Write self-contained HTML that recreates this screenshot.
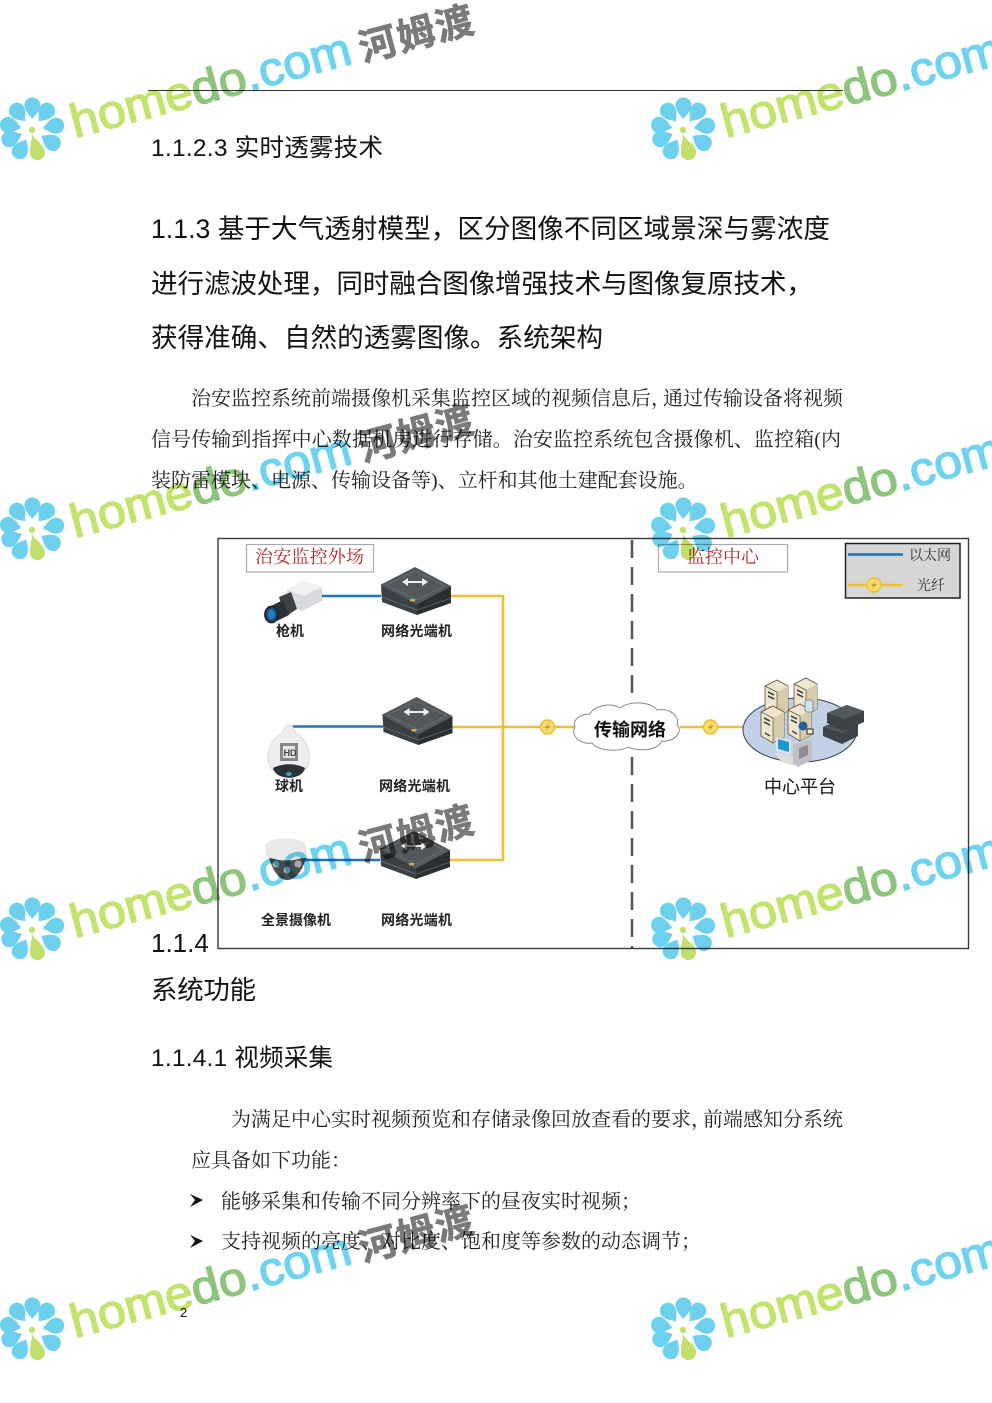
<!DOCTYPE html>
<html><head><meta charset="utf-8"><style>
html,body{margin:0;padding:0;background:#fff;width:992px;height:1403px;overflow:hidden}
svg{display:block}
.h{font-family:"Liberation Sans","Noto Sans CJK SC",sans-serif;fill:#111}
.b{font-family:"Liberation Serif","Noto Serif CJK SC",serif;fill:#222;font-size:20px}
.l{font-family:"Liberation Sans","Noto Sans CJK SC",sans-serif;font-weight:700;font-size:14px;fill:#222}
.r{font-family:"Liberation Serif","Noto Serif CJK SC",serif;font-size:18px;fill:#b2282c}
.wm{mix-blend-mode:multiply}
.wt{font-family:"Liberation Sans",sans-serif;font-size:47px;stroke-width:1.4;stroke-linejoin:round}
.wc{font-family:"Liberation Sans","Noto Sans CJK SC",sans-serif;font-weight:700;font-size:38px;fill:#7a7a7a;stroke:#7a7a7a;stroke-width:.6}
</style></head><body>
<svg width="992" height="1403" viewBox="0 0 992 1403" xmlns="http://www.w3.org/2000/svg">
<defs>
<path id="p" d="M0,-11 C-3,-15 -8,-19 -8,-25 A8,7.500 0 0 1 8,-25 C8,-19 3,-15 0,-11Z"/>
<g id="logo">
<g fill="#6dd0ec">
<use href="#p" transform="rotate(-150)"/><use href="#p" transform="rotate(-112)"/><use href="#p" transform="rotate(-78)"/><use href="#p" transform="rotate(-38)"/><use href="#p" transform="rotate(1)"/><use href="#p" transform="rotate(38)"/><use href="#p" transform="rotate(80)"/><use href="#p" transform="rotate(122)"/>
</g>
<path d="M0,3 C1,10 13,14 13,22 C13,32 0,33 -2,24 C-3,17 0,12 0,3Z" fill="#bfe06a"/>
<circle cy="0" r="3.200" fill="#bfe06a"/>
</g>
<g id="sw">
<polygon points="381,585 417,604 417,615 382,602" fill="#3a4043"/>
<polygon points="451,586 417,604 417,615 451,603" fill="#2a2f31"/>
<polygon points="415,567 451,586 417,604 380,585" fill="#52585b"/>
<polygon points="415,571 445,586 417,600 386,585" fill="none" stroke="#6c7275" stroke-width=".7"/>
<path d="M382,597 L417,610 L451,598" fill="none" stroke="#767c7f" stroke-width=".6"/>
<path d="M404,582 H426" stroke="#eee" stroke-width="2"/>
<path d="M402,582 L408,578 V586Z M428,582 L422,578 V586Z" fill="#eee"/>
<rect x="410" y="599" width="5" height="2.500" fill="#c9b04a"/>
</g>
<g id="bolt">
<circle r="7" fill="#f6dc70" stroke="#efbd2c" stroke-width="1.400"/>
<path d="M3,-5 L-3,1 H0 L-3,5 L3,-1 H0Z" fill="#c79a18"/>
</g>
<g id="srv">
<polygon points="0,6 12,0 23,6 23,31 12,37 0,30" fill="#efe6cf" stroke="#5c5038" stroke-width=".8"/>
<polygon points="12,12 23,6 23,31 12,37" fill="#d8cbab"/>
<path d="M0,6 L12,12 V37" fill="none" stroke="#5c5038" stroke-width=".7"/>
<path d="M3,12 L9,15 M3,16 L9,19 M4,27 L9,30" stroke="#444" stroke-width="1.600"/>
</g>
</defs>
<rect width="992" height="1403" fill="#fff"/>

<!-- page text -->
<line x1="148" y1="90.500" x2="843" y2="90.500" stroke="#333" stroke-width="1"/>
<text class="h" x="151" y="156" font-size="24.5" textLength="232">1.1.2.3 实时透雾技术</text>
<text class="h" x="151" y="238" font-size="26.6" textLength="679">1.1.3 基于大气透射模型，区分图像不同区域景深与雾浓度</text>
<text class="h" x="151" y="293" font-size="26.6" textLength="662">进行滤波处理，同时融合图像增强技术与图像复原技术，</text>
<text class="h" x="151" y="347" font-size="26.6" textLength="452">获得准确、自然的透雾图像。系统架构</text>
<text class="b" x="191" y="405">治安监控系统前端摄像机采集监控区域的视频信息后，</text>
<text class="b" x="663" y="405">通过传输设备将视频</text>
<text class="b" x="151" y="446" textLength="690">信号传输到指挥中心数据机房进行存储。治安监控系统包含摄像机、监控箱(内</text>
<text class="b" x="151" y="487">装防雷模块、电源、传输设备等)、立杆和其他土建配套设施。</text>
<text class="h" x="151" y="952" font-size="26">1.1.4</text>
<text class="h" x="151" y="999" font-size="26.4" textLength="105">系统功能</text>
<text class="h" x="151" y="1066" font-size="24.5" textLength="182">1.1.4.1 视频采集</text>
<text class="b" x="231" y="1126">为满足中心实时视频预览和存储录像回放查看的要求，</text>
<text class="b" x="703" y="1126">前端感知分系统</text>
<text class="b" x="191" y="1167">应具备如下功能：</text>
<path d="M190,1194 L203,1200 L190,1207 L195,1200Z" fill="#111"/>
<text class="b" x="221" y="1208">能够采集和传输不同分辨率下的昼夜实时视频；</text>
<path d="M190,1235 L203,1241 L190,1248 L195,1241Z" fill="#111"/>
<text class="b" x="221" y="1248">支持视频的亮度、对比度、饱和度等参数的动态调节；</text>
<text class="h" x="180" y="1317" font-size="13">2</text>

<!-- diagram -->
<rect x="218" y="538.500" width="750.500" height="410" fill="#fff" stroke="#3a3a3a" stroke-width="1.400"/>
<path d="M632,540 V700 M632,757 V948" stroke="#555" stroke-width="2.500" stroke-dasharray="18 9"/>
<rect x="246.500" y="544.500" width="127" height="27.500" fill="#fff" stroke="#aaa" stroke-width="1.200"/>
<text class="r" x="255" y="563" textLength="109">治安监控外场</text>
<rect x="658.500" y="544.500" width="129" height="27.500" fill="#fff" stroke="#aaa" stroke-width="1.200"/>
<text class="r" x="687" y="563" textLength="72">监控中心</text>
<rect x="845.500" y="543.500" width="114.500" height="54.500" fill="#d6d6d6" stroke="#222" stroke-width="1.500"/>
<line x1="848" y1="554.500" x2="903" y2="554.500" stroke="#1f74b8" stroke-width="2.400"/>
<line x1="848" y1="585" x2="903" y2="585" stroke="#f0bd33" stroke-width="2.400"/>
<use href="#bolt" x="874" y="585"/>
<text x="909" y="560" font-size="14" textLength="42" style="font-family:'Liberation Serif','Noto Serif CJK SC',serif" fill="#333">以太网</text>
<text x="917" y="590" font-size="14" textLength="28" style="font-family:'Liberation Serif','Noto Serif CJK SC',serif" fill="#333">光纤</text>

<!-- connectors -->
<g fill="none" stroke-width="2.600">
<path d="M321,596 H381" stroke="#1f74b8"/>
<path d="M288,726.500 H383" stroke="#1f74b8"/>
<path d="M300,860 H380" stroke="#1f74b8"/>
<path d="M450,596 H503 V860 H448" stroke="#f0bd33"/>
<path d="M452,727 H576 M680,727 H743" stroke="#f0bd33"/>
</g>
<use href="#bolt" x="547.500" y="727"/>
<use href="#bolt" x="710.500" y="727"/>
<use href="#sw"/>
<use href="#sw" x="1.500" y="130"/>
<use href="#sw" x="-1" y="264"/>

<!-- cloud -->
<path d="M575,727 C572,720 580,714 590,714 C594,706 610,702 620,708 C630,700 652,702 657,710 C670,708 680,716 677,725 C684,732 674,742 662,741 C656,752 636,751 628,747 C618,753 596,750 592,743 C580,745 570,735 575,727Z" fill="#fff" stroke="#888" stroke-width="1"/>
<text class="l" x="594" y="736" style="font-size:18px;fill:#111" textLength="72">传输网络</text>

<!-- gun camera -->
<polygon points="287,590 303,581 322,587 322,601 302,611 288,604" fill="#d9dade"/>
<polygon points="287,590 303,581 322,587 304,596" fill="#f0f1f3"/>
<polygon points="279,597 291,592 297,609 285,617" fill="#3e4247"/>
<polygon points="271,606 283,600 289,615 277,621" fill="#2d3136"/>
<ellipse cx="271.500" cy="614.500" rx="6.500" ry="8" fill="#1d4d7c" stroke="#222" stroke-width="1.800"/>
<ellipse cx="271.500" cy="614.500" rx="3.500" ry="5" fill="#1f7fc4"/>

<!-- dome PTZ -->
<path d="M286,725 H292 L296,733 C306,738 311,752 309,762 C308,767 306,769 304,771 L274,771 C271,769 269,766 268,760 C267,750 272,738 282,733Z" fill="#ededef" stroke="#ccc" stroke-width=".6"/>
<rect x="280" y="743" width="18" height="18" fill="#85888a"/>
<rect x="283" y="746" width="12" height="12" fill="#e4e4e4"/>
<text x="283.500" y="756" font-size="9" font-weight="700" fill="#444" style="font-family:'Liberation Sans',sans-serif">HD</text>
<path d="M273,768 C276,781 302,781 305,768 C296,763 282,763 273,768Z" fill="#2c3136"/>
<ellipse cx="289" cy="774" rx="3" ry="2" fill="#3a9ec9"/>

<!-- panoramic dome -->
<path d="M269,858 C272,868 278,880 287,880 C297,880 303,868 306,858Z" fill="#4a4d50"/>
<circle cx="276" cy="864" r="3.500" fill="#a9a9a9"/><circle cx="287" cy="870" r="3.500" fill="#a9a9a9"/><circle cx="298" cy="864" r="3.500" fill="#a9a9a9"/>
<path d="M265,846 C266,836 304,836 306,846 V856 C296,862 276,862 266,856Z" fill="#e9e9eb"/>

<!-- centre platform -->
<ellipse cx="800" cy="730" rx="57" ry="32" fill="#c2d1e6" stroke="#2f4058" stroke-width="1"/>
<use href="#srv" x="765" y="680"/>
<use href="#srv" x="794" y="678"/>
<use href="#srv" x="761" y="706"/>
<use href="#srv" x="788" y="704"/>
<rect x="805" y="700" width="8" height="12" rx="2" fill="#cfe3ef" stroke="#456" stroke-width=".6"/>
<circle cx="803" cy="726" r="4.500" fill="#1f5e96"/>
<rect x="807" y="729" width="6" height="5" fill="#f5efcf" stroke="#222"/>
<g>
<polygon points="827,713 847,705 864,711 864,722 844,731 827,723" fill="#3c4247"/>
<polygon points="827,713 847,705 864,711 844,719" fill="#54595d"/>
<polygon points="823,727 843,719 858,725 858,736 842,744 823,736" fill="#3c4247"/>
<polygon points="823,727 827,725 844,731 858,725 842,733" fill="#54595d"/>
</g>
<polygon points="775,752 795,757 795,766 781,762" fill="#dedede"/>
<polygon points="776,737 791,741 791,755 776,751" fill="#e4e4e4"/>
<polygon points="778,739 789,742 789,752 778,749" fill="#1e97d6"/>
<polygon points="793,745 808,740 812,742 812,760 798,767 793,763" fill="#c0c0c2"/>
<polygon points="799,748 808,745 808,755 799,759" fill="#8f8f91"/>
<text x="764" y="793" font-size="18" textLength="72" class="h">中心平台</text>

<text class="l" x="276" y="636" textLength="28">枪机</text>
<text class="l" x="381" y="636" textLength="71">网络光端机</text>
<text class="l" x="275" y="791" textLength="28">球机</text>
<text class="l" x="379" y="791" textLength="71">网络光端机</text>
<text class="l" x="261" y="925" textLength="70">全景摄像机</text>
<text class="l" x="381" y="925" textLength="71">网络光端机</text>

<!-- watermarks -->
<g class="wm">
<g>
<use href="#logo" x="32" y="130"/>
<text class="wt" transform="rotate(-15 75 138)" x="75" y="138" textLength="289" lengthAdjust="spacingAndGlyphs"><tspan fill="#c3e36f" stroke="#c3e36f">home</tspan><tspan fill="#8fc47e" stroke="#8fc47e">do</tspan><tspan fill="#6fd3ee" stroke="#6fd3ee">.com</tspan></text>
<text class="wc" transform="rotate(-15 363 62)" x="363" y="62" textLength="117">河姆渡</text>
<use href="#logo" x="683" y="130"/>
<text class="wt" transform="rotate(-15 726 138)" x="726" y="138" textLength="289" lengthAdjust="spacingAndGlyphs"><tspan fill="#c3e36f" stroke="#c3e36f">home</tspan><tspan fill="#8fc47e" stroke="#8fc47e">do</tspan><tspan fill="#6fd3ee" stroke="#6fd3ee">.com</tspan></text>
</g>
<g transform="translate(0 400)">
<use href="#logo" x="32" y="130"/>
<text class="wt" transform="rotate(-15 75 138)" x="75" y="138" textLength="289" lengthAdjust="spacingAndGlyphs"><tspan fill="#c3e36f" stroke="#c3e36f">home</tspan><tspan fill="#8fc47e" stroke="#8fc47e">do</tspan><tspan fill="#6fd3ee" stroke="#6fd3ee">.com</tspan></text>
<text class="wc" transform="rotate(-15 363 62)" x="363" y="62" textLength="117">河姆渡</text>
<use href="#logo" x="683" y="130"/>
<text class="wt" transform="rotate(-15 726 138)" x="726" y="138" textLength="289" lengthAdjust="spacingAndGlyphs"><tspan fill="#c3e36f" stroke="#c3e36f">home</tspan><tspan fill="#8fc47e" stroke="#8fc47e">do</tspan><tspan fill="#6fd3ee" stroke="#6fd3ee">.com</tspan></text>
</g>
<g transform="translate(0 800)">
<use href="#logo" x="32" y="130"/>
<text class="wt" transform="rotate(-15 75 138)" x="75" y="138" textLength="289" lengthAdjust="spacingAndGlyphs"><tspan fill="#c3e36f" stroke="#c3e36f">home</tspan><tspan fill="#8fc47e" stroke="#8fc47e">do</tspan><tspan fill="#6fd3ee" stroke="#6fd3ee">.com</tspan></text>
<text class="wc" transform="rotate(-15 363 62)" x="363" y="62" textLength="117">河姆渡</text>
<use href="#logo" x="683" y="130"/>
<text class="wt" transform="rotate(-15 726 138)" x="726" y="138" textLength="289" lengthAdjust="spacingAndGlyphs"><tspan fill="#c3e36f" stroke="#c3e36f">home</tspan><tspan fill="#8fc47e" stroke="#8fc47e">do</tspan><tspan fill="#6fd3ee" stroke="#6fd3ee">.com</tspan></text>
</g>
<g transform="translate(0 1200)">
<use href="#logo" x="32" y="130"/>
<text class="wt" transform="rotate(-15 75 138)" x="75" y="138" textLength="289" lengthAdjust="spacingAndGlyphs"><tspan fill="#c3e36f" stroke="#c3e36f">home</tspan><tspan fill="#8fc47e" stroke="#8fc47e">do</tspan><tspan fill="#6fd3ee" stroke="#6fd3ee">.com</tspan></text>
<text class="wc" transform="rotate(-15 363 62)" x="363" y="62" textLength="117">河姆渡</text>
<use href="#logo" x="683" y="130"/>
<text class="wt" transform="rotate(-15 726 138)" x="726" y="138" textLength="289" lengthAdjust="spacingAndGlyphs"><tspan fill="#c3e36f" stroke="#c3e36f">home</tspan><tspan fill="#8fc47e" stroke="#8fc47e">do</tspan><tspan fill="#6fd3ee" stroke="#6fd3ee">.com</tspan></text>
</g>
</g>
</svg>
</body></html>
